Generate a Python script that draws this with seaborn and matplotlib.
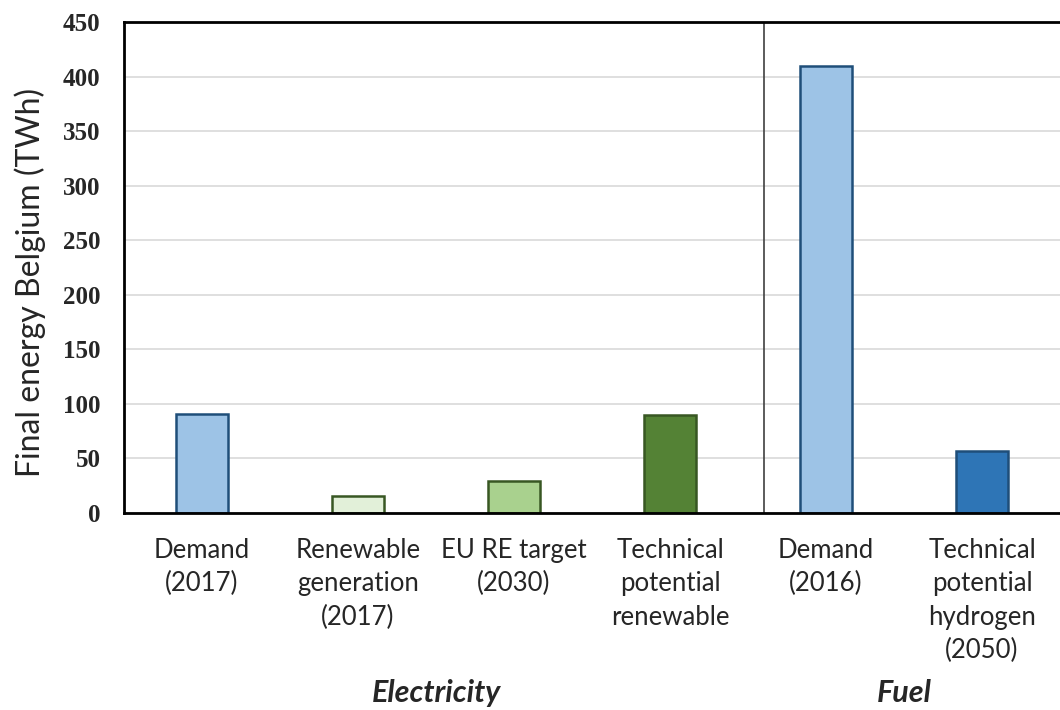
import matplotlib
matplotlib.use("Agg")
import matplotlib.pyplot as plt
import seaborn as sns
import pandas as pd

# Final energy figures for Belgium (TWh)
categories = [
    "Demand\n(2017)",
    "Renewable\ngeneration\n(2017)",
    "EU RE target\n(2030)",
    "Technical\npotential\nrenewable",
    "Demand\n(2016)",
    "Technical\npotential\nhydrogen\n(2050)",
]
values = [91, 16, 29, 90, 410, 57]
groups = ["Electricity", "Electricity", "Electricity", "Electricity", "Fuel", "Fuel"]
fill_colors = ["#9DC3E6", "#E2F0D9", "#A9D18E", "#548235", "#9DC3E6", "#2E75B6"]
edge_colors = ["#1F4E79", "#385723", "#385723", "#385723", "#1F4E79", "#1F4E79"]
y_ticks = [0, 50, 100, 150, 200, 250, 300, 350, 400, 450]

df = pd.DataFrame({"category": categories, "value": values, "group": groups})

sns.set_theme(style="white")
plt.rcParams["font.family"] = ["Lato", "DejaVu Sans"]

fig = plt.figure(figsize=(10.6, 7.1), dpi=100)
ax = fig.add_axes([0.117, 0.2775, 0.883, 0.6915])

sns.barplot(data=df, x="category", y="value", hue="category",
            palette=fill_colors, legend=False, width=0.33, ax=ax,
            saturation=1, linewidth=1.8)
for patch, ec in zip(ax.patches, edge_colors):
    patch.set_edgecolor(ec)

ax.set_xlim(-0.5, len(categories) - 0.5)
ax.set_ylim(0, 450)
ax.set_yticks(y_ticks)
ax.set_yticklabels([str(t) for t in y_ticks], family="Liberation Serif",
                   fontweight="bold", fontsize=18)
ax.set_xticks(range(len(categories)))
ax.set_xticklabels(categories, fontsize=18.5, linespacing=1.42, va="top")
ax.tick_params(axis="both", length=0)
ax.tick_params(axis="x", pad=18)
ax.tick_params(axis="y", pad=17)

ax.yaxis.grid(True, color="#D9D9D9", linewidth=1.2)
ax.set_axisbelow(True)

for side in ["left", "bottom", "top"]:
    ax.spines[side].set_visible(True)
    ax.spines[side].set_color("black")
    ax.spines[side].set_linewidth(2)
ax.spines["right"].set_visible(False)

# divider between electricity and fuel groups
ax.axvline(3.6, color="#404040", linewidth=1.2)

ax.set_xlabel("")
ax.set_ylabel("Final energy Belgium (TWh)", fontsize=23)
ax.yaxis.set_label_coords(-0.083, 0.47)

# group labels below the category labels
for name, center in [("Electricity", 1.5), ("Fuel", 4.5)]:
    ax.text(center, -0.366, name, transform=ax.get_xaxis_transform(),
            ha="center", va="center", fontsize=22, fontweight="bold",
            fontstyle="italic")

fig.savefig("out.png", dpi=100)
